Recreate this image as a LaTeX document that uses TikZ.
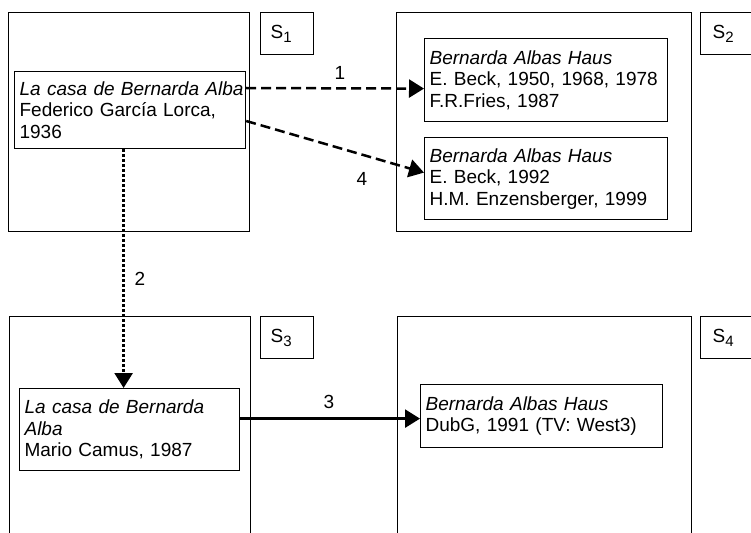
\documentclass[tikz,border=0pt]{standalone}
\usepackage{fontspec}
\setmainfont{Liberation Sans}
\usetikzlibrary{arrows.meta}
% situation label: S with a lowered index
\newcommand\situation[1]{S\raisebox{-4.3pt}{\fontsize{15}{15}\selectfont #1}}
\begin{document}
\begin{tikzpicture}[x=1pt,y=-1pt,
  every node/.style={font=\fontsize{19}{21.5}\selectfont},
  frame/.style={draw, line width=1.2pt, anchor=north west, inner sep=0pt},
  tag/.style={draw, line width=1.2pt, anchor=north west, inner ysep=0pt,
    minimum height=42pt, align=left},
  item/.style={draw, line width=1.2pt, anchor=north west, inner xsep=5pt,
    inner ysep=0pt, align=left},
  link/.style={line width=2.5pt, -{Triangle[length=15pt,width=18pt]}},
  dashlink/.style={link, dash pattern=on 10pt off 5pt},
  dotlink/.style={link, dash pattern=on 3pt off 2pt},
  num/.style={inner sep=0pt}
]
\useasboundingbox (0,0) rectangle (751,532);
\clip (0,0) rectangle (751,532);

% four situation frames
\node[frame, minimum width=241pt, minimum height=219pt] (F1) at (8,12) {};
\node[frame, minimum width=295pt, minimum height=219pt] (F2) at (396,12) {};
\node[frame, minimum width=241pt, minimum height=250pt] (F3) at (9,316) {};
\node[frame, minimum width=294pt, minimum height=250pt] (F4) at (397,316) {};

% situation tags
\node[tag, minimum width=53pt, inner xsep=10pt, text width=33pt] (T1) at (260,12) {\situation{1}};
\node[tag, minimum width=80pt, inner xsep=12pt, text width=56pt] (T2) at (700,12) {\situation{2}};
\node[tag, minimum width=53pt, inner xsep=10pt, text width=33pt] (T3) at (260,316) {\situation{3}};
\node[tag, minimum width=80pt, inner xsep=12pt, text width=56pt] (T4) at (700,316) {\situation{4}};

% works
\node[item, text width=221pt, minimum height=77pt] (A) at (14,71)
  {\mbox{\textit{La casa de Bernarda Alba}}\\Federico García Lorca,\\1936};
\node[item, text width=233pt, minimum height=83pt] (B) at (424,38)
  {\textit{Bernarda Albas Haus}\\E. Beck, 1950, 1968, 1978\\F.R.Fries, 1987};
\node[item, text width=233pt, minimum height=82pt] (C) at (424,137)
  {\textit{Bernarda Albas Haus}\\E. Beck, 1992\\H.M. Enzensberger, 1999};
\node[item, text width=210pt, minimum height=82pt] (D) at (19,388)
  {\textit{La casa de Bernarda}\\\textit{Alba}\\Mario Camus, 1987};
\node[item, text width=232pt, minimum height=63pt] (E) at (420,384)
  {\textit{Bernarda Albas Haus}\\DubG, 1991 (TV: West3)};

% transfers
\draw[dashlink] ([yshift=-17pt]A.north east) -- ([yshift=-8.5pt]B.west);
\draw[dashlink] ([yshift=-50pt]A.north east) -- ([yshift=6pt]C.west);
\draw[dotlink] ([xshift=-6.5pt]A.south) -- ([xshift=-6pt]D.north);
\draw[link] ([yshift=11pt]D.east) -- ([yshift=-2.5pt]E.west);

% transfer numbers
\node[num] (n1) at (340,73) {1};
\node[num] (n4) at (362,179) {4};
\node[num] (n2) at (140,279) {2};
\node[num] (n3) at (329,402) {3};
\end{tikzpicture}
\end{document}
